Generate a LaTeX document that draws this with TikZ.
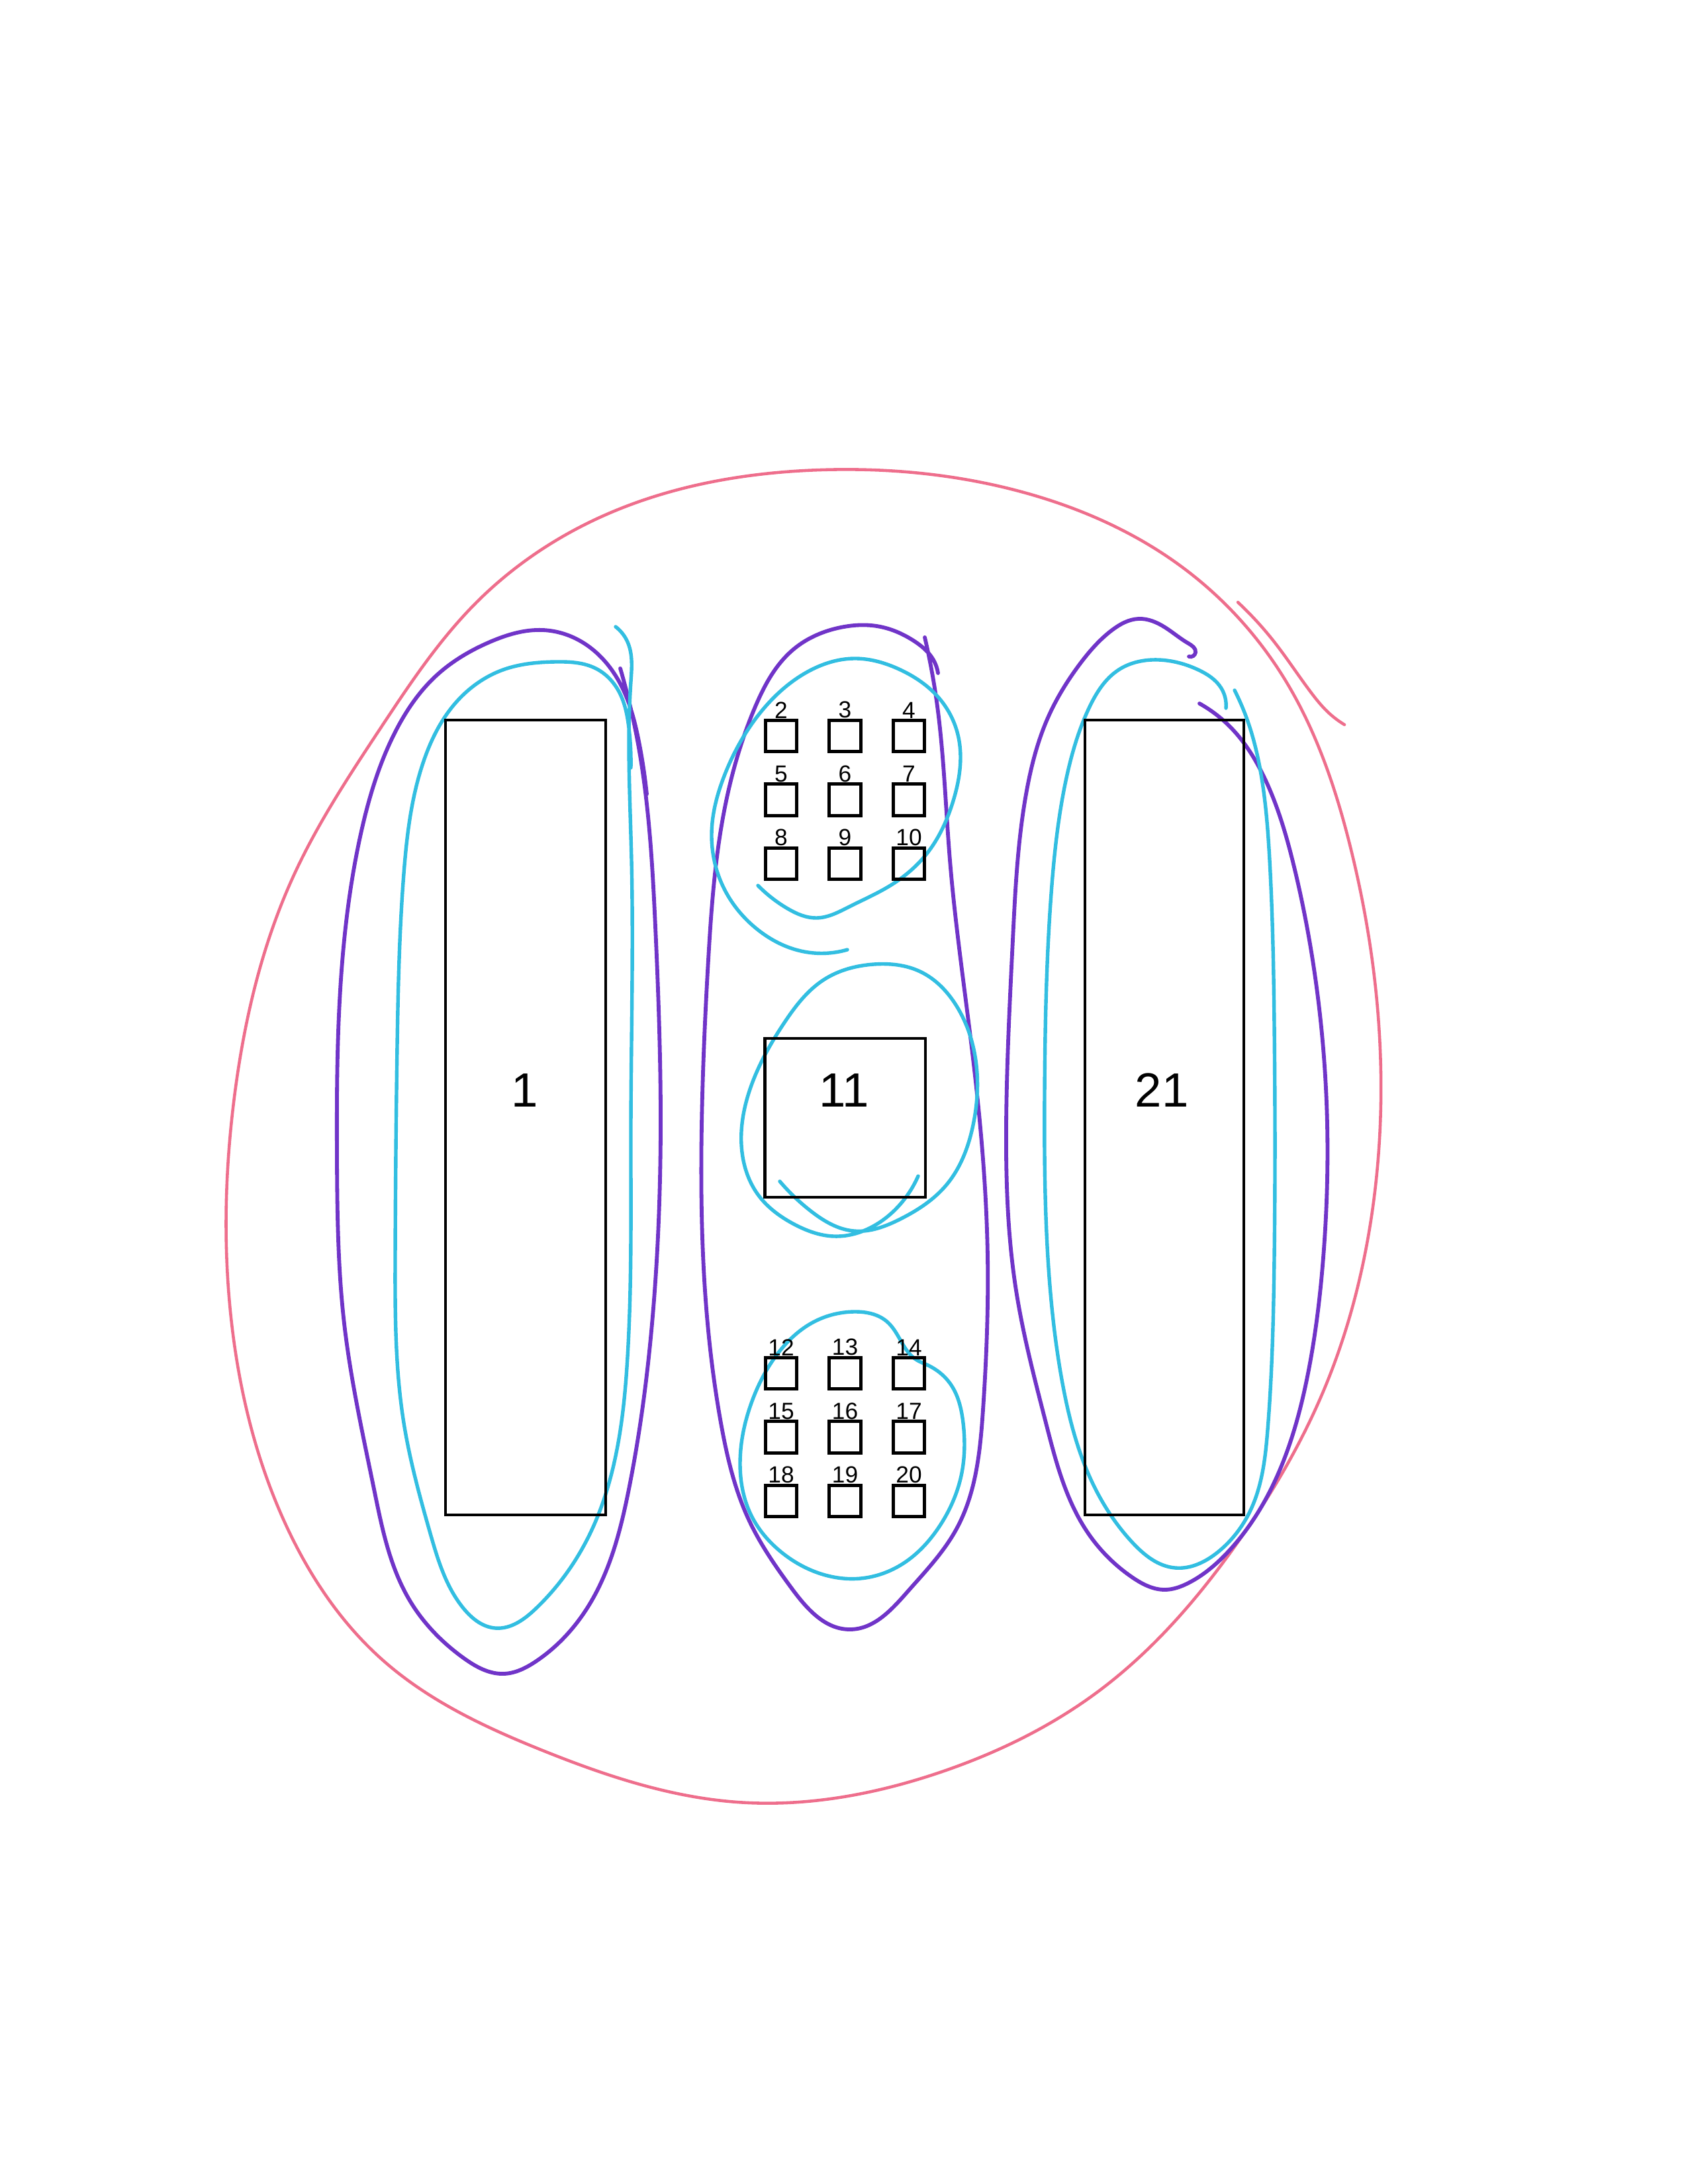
\documentclass[tikz,border=0pt]{standalone}
\usepackage{fontspec}
\setmainfont{Liberation Sans}
\usepackage{tikz}
\usetikzlibrary{positioning, hobby}
\definecolor{pinkpen}{RGB}{238,110,140}
\definecolor{purplepen}{RGB}{112,52,200}
\definecolor{cyanpen}{RGB}{50,190,225}

\begin{document}
\begin{tikzpicture}[x=8.4667mm, y=-8.4667mm]
\tikzstyle{bigbox}=[rectangle,draw,line width=1pt,inner sep=0pt]
\tikzstyle{smallbox}=[rectangle,draw,line width=1.2pt,minimum size=4.0mm,inner sep=0pt]
\tikzstyle{numlabel}=[inner sep=0pt,font=\fontsize{8.5}{10}\selectfont]
\tikzstyle{biglabel}=[inner sep=0pt,font=\fontsize{17.5}{20}\selectfont]
\tikzstyle{pinkloop}=[draw=pinkpen,line width=1.1pt,line cap=round]
\tikzstyle{purpleloop}=[draw=purplepen,line width=1.4pt,line cap=round]
\tikzstyle{cyanloop}=[draw=cyanpen,line width=1.3pt,line cap=round]
\useasboundingbox (0,0) rectangle (25.5,33);

% big pink loop round everything
\draw[pinkloop,closed hobby] plot coordinates {
(12.40,7.10) (15.50,7.45) (17.90,8.60) (19.43,10.30) (20.40,12.80) (20.83,15.50)
(20.70,18.50) (20.00,21.00) (18.70,23.30) (16.60,25.55) (14.20,26.78) (11.14,27.23)
(8.20,26.45) (5.80,25.10) (4.30,23.00) (3.50,20.00) (3.55,16.50) (4.45,13.20)
(5.75,11.00) (7.20,9.10) (9.10,7.80)};
\draw[pinkloop,hobby] plot coordinates {
(18.70,9.10) (19.25,9.70) (19.81,10.47) (20.05,10.75) (20.31,10.95)};

% left group
\draw[purpleloop,hobby] plot coordinates {
(9.37,10.10) (9.65,11.30) (9.90,14.00) (9.98,17.00) (9.85,20.00) (9.50,22.50)
(8.90,24.25) (8.10,25.10) (7.61,25.29) (7.00,25.05) (6.20,24.20) (5.65,22.50)
(5.20,20.00) (5.09,17.50) (5.15,14.80) (5.45,12.60) (5.95,11.10) (6.60,10.20)
(7.40,9.70) (8.20,9.52) (8.70,9.65) (9.10,9.95) (9.45,10.50) (9.65,11.20) (9.77,12.00)};
\draw[cyanloop,hobby] plot coordinates {
(9.30,9.47) (9.48,9.70) (9.53,10.30) (9.54,13.00) (9.53,17.00) (9.48,20.50)
(9.30,22.00) (8.90,23.20) (8.10,24.30) (7.48,24.60) (7.00,24.30) (6.50,23.17)
(6.10,21.50) (5.97,19.00) (6.00,15.80) (6.10,13.20) (6.40,11.50) (6.90,10.60)
(7.60,10.12) (8.40,10.00) (9.00,10.10) (9.35,10.45) (9.50,11.00) (9.53,11.60)};

% middle group
\draw[purpleloop,hobby] plot coordinates {
(13.97,9.63) (14.15,10.60) (14.35,13.00) (14.70,16.00) (14.92,19.00) (14.85,21.30)
(14.45,23.10) (13.71,24.05) (12.84,24.62) (11.96,24.00) (11.31,22.96) (10.89,21.50)
(10.65,19.50) (10.60,17.00) (10.70,14.50) (10.95,12.20) (11.40,10.70) (12.00,9.80)
(12.70,9.48) (13.30,9.47) (13.80,9.68) (14.10,9.97) (14.17,10.17)};
\draw[cyanloop,hobby] plot coordinates {
(12.80,14.35) (12.10,14.37) (11.45,14.05) (10.95,13.45) (10.75,12.60) (10.95,11.70)
(11.50,10.75) (12.20,10.15) (12.90,9.95) (13.60,10.12) (14.17,10.53) (14.47,11.10)
(14.40,12.10) (14.00,12.90) (13.45,13.38) (12.83,13.70) (12.33,13.87) (11.90,13.73)
(11.45,13.38)};
\draw[cyanloop,hobby] plot coordinates {
(11.78,17.85) (12.25,18.30) (12.90,18.60) (13.60,18.42) (14.30,17.90) (14.70,17.00)
(14.75,16.10) (14.45,15.20) (13.90,14.68) (13.20,14.57) (12.45,14.80) (11.85,15.45)
(11.35,16.40) (11.20,17.30) (11.45,18.05) (12.00,18.50) (12.60,18.68) (13.15,18.55)
(13.55,18.25) (13.87,17.77)};
\draw[cyanloop,closed hobby] plot coordinates {
(13.85,20.55) (13.40,19.97) (12.90,19.82) (12.30,19.97) (11.75,20.45) (11.35,21.20)
(11.18,22.10) (11.35,22.90) (11.80,23.45) (12.40,23.78) (13.00,23.85) (13.65,23.62)
(14.20,23.05) (14.52,22.30) (14.55,21.50) (14.35,20.90) (14.00,20.62)};

% right group
\draw[purpleloop,hobby] plot coordinates {
(18.12,10.63) (18.60,11.00) (19.10,11.75) (19.55,13.10) (19.90,15.00) (20.05,17.00)
(19.99,19.00) (19.75,20.80) (19.20,22.50) (18.55,23.45) (17.95,23.92) (17.60,24.02)
(17.10,23.83) (16.44,23.17) (15.80,21.50) (15.35,19.50) (15.20,17.00) (15.30,14.20)
(15.50,12.00) (15.85,10.80) (16.30,10.05) (16.80,9.52) (17.20,9.35) (17.60,9.48)
(17.95,9.72) (18.06,9.86) (17.96,9.92)};
\draw[cyanloop,hobby] plot coordinates {
(18.52,10.70) (18.45,10.40) (18.10,10.12) (17.50,9.97) (16.90,10.12) (16.45,10.70)
(16.10,11.80) (15.88,13.50) (15.78,16.50) (15.85,19.30) (16.05,20.90) (16.50,22.40)
(17.10,23.30) (17.75,23.69) (18.40,23.45) (18.90,22.80) (19.15,21.60) (19.25,19.00)
(19.25,15.50) (19.18,13.00) (19.05,11.70) (18.85,10.90) (18.65,10.43)};

% the boxes
\node[bigbox,minimum width=20.5mm,minimum height=101.7mm] (r1) at (7.94,16.885) {};
\node[bigbox,minimum width=20.3mm,minimum height=101.7mm] (r21) at (17.59,16.885) {};
\node[bigbox,minimum width=20.5mm,minimum height=20.3mm] (r11) at (12.765,16.89) {};
\node[biglabel] (n1) at (7.93,16.47) {1};
\node[biglabel] (n11) at (12.75,16.47) {11};
\node[biglabel] (n21) at (17.55,16.47) {21};

\node[smallbox,label={[numlabel]above:2}] (b2) at (11.80,11.12) {};
\node[smallbox,label={[numlabel]above:3}] (b3) at (12.765,11.12) {};
\node[smallbox,label={[numlabel]above:4}] (b4) at (13.73,11.12) {};
\node[smallbox,label={[numlabel]above:5}] (b5) at (11.80,12.085) {};
\node[smallbox,label={[numlabel]above:6}] (b6) at (12.765,12.085) {};
\node[smallbox,label={[numlabel]above:7}] (b7) at (13.73,12.085) {};
\node[smallbox,label={[numlabel]above:8}] (b8) at (11.80,13.05) {};
\node[smallbox,label={[numlabel]above:9}] (b9) at (12.765,13.05) {};
\node[smallbox,label={[numlabel]above:10}] (b10) at (13.73,13.05) {};
\node[smallbox,label={[numlabel]above:12}] (b12) at (11.80,20.75) {};
\node[smallbox,label={[numlabel]above:13}] (b13) at (12.765,20.75) {};
\node[smallbox,label={[numlabel]above:14}] (b14) at (13.73,20.75) {};
\node[smallbox,label={[numlabel]above:15}] (b15) at (11.80,21.715) {};
\node[smallbox,label={[numlabel]above:16}] (b16) at (12.765,21.715) {};
\node[smallbox,label={[numlabel]above:17}] (b17) at (13.73,21.715) {};
\node[smallbox,label={[numlabel]above:18}] (b18) at (11.80,22.68) {};
\node[smallbox,label={[numlabel]above:19}] (b19) at (12.765,22.68) {};
\node[smallbox,label={[numlabel]above:20}] (b20) at (13.73,22.68) {};
\end{tikzpicture}
\end{document}
